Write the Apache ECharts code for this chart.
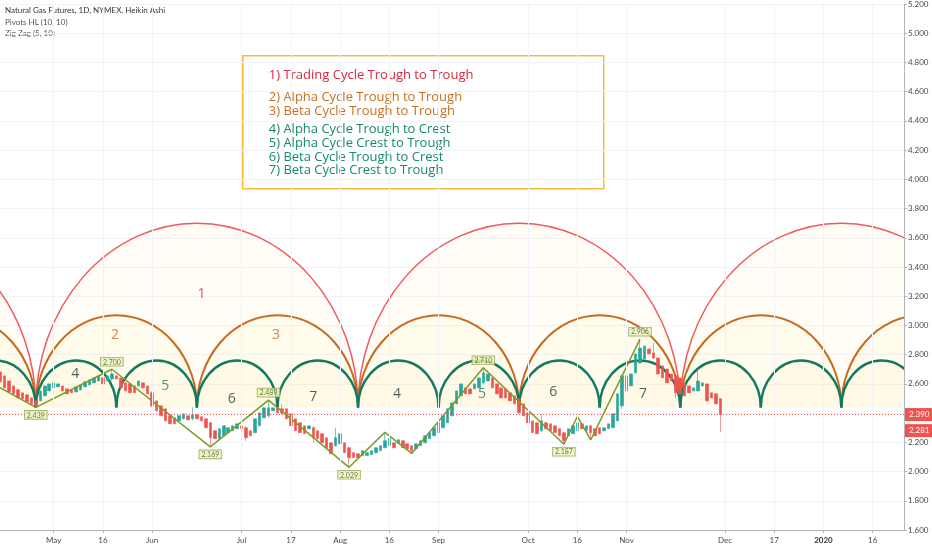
<!DOCTYPE html>
<html>
<head>
<meta charset="utf-8">
<title>Natural Gas Futures, 1D, NYMEX, Heikin Ashi</title>
<script src="https://cdn.jsdelivr.net/npm/echarts@6/dist/echarts.min.js"></script>
<style>
  html, body { margin: 0; padding: 0; background: #fff; }
  #chart { width: 932px; height: 550px; }
</style>
</head>
<body>
<div id="chart"></div>
<script>
// bar index runs from the left edge of the picture (about mid April 2019)
var tickIdx  = [12, 23, 34, 54, 65, 76, 87, 98, 118, 129, 140, 162, 173, 184, 195];
var tickText = ['May', '16', 'Jun', 'Jul', '17', 'Aug', '16', 'Sep', 'Oct', '16', 'Nov', 'Dec', '17', '2020', '16'];

// Heikin Ashi bodies, one per bar (index 0..161)
var opens = [
  2.682, 2.655, 2.620, 2.586, 2.560, 2.539, 2.525, 2.504, 2.484, 2.484,
  2.518, 2.552, 2.573, 2.580, 2.586, 2.566, 2.559, 2.545, 2.559, 2.580,
  2.593, 2.607, 2.620, 2.641, 2.620, 2.634, 2.655, 2.641, 2.607, 2.600,
  2.586, 2.586, 2.607, 2.586, 2.539, 2.484, 2.450, 2.430, 2.382, 2.368,
  2.347, 2.361, 2.382, 2.361, 2.389, 2.375, 2.361, 2.334, 2.280, 2.225,
  2.245, 2.266, 2.279, 2.293, 2.313, 2.300, 2.279, 2.266, 2.313, 2.368,
  2.382, 2.416, 2.436, 2.430, 2.430, 2.395, 2.361, 2.334, 2.313, 2.293,
  2.300, 2.279, 2.259, 2.231, 2.197, 2.177, 2.190, 2.197, 2.163, 2.129,
  2.122, 2.109, 2.109, 2.116, 2.129, 2.143, 2.163, 2.177, 2.197, 2.190,
  2.211, 2.190, 2.177, 2.156, 2.177, 2.197, 2.225, 2.245, 2.266, 2.300,
  2.334, 2.382, 2.463, 2.518, 2.573, 2.566, 2.566, 2.573, 2.607, 2.620,
  2.641, 2.600, 2.573, 2.566, 2.539, 2.518, 2.498, 2.463, 2.402, 2.347,
  2.334, 2.280, 2.334, 2.327, 2.313, 2.293, 2.266, 2.245, 2.259, 2.279,
  2.327, 2.279, 2.313, 2.293, 2.300, 2.279, 2.293, 2.300, 2.347, 2.450,
  2.552, 2.586, 2.675, 2.743, 2.771, 2.839, 2.812, 2.777, 2.723, 2.702,
  2.668, 2.655, 2.641, 2.607, 2.586, 2.552, 2.552, 2.586, 2.600, 2.539,
  2.532, 2.498
];
var closes = [
  2.614, 2.573, 2.545, 2.532, 2.504, 2.498, 2.477, 2.463, 2.450, 2.552,
  2.586, 2.600, 2.607, 2.600, 2.552, 2.532, 2.539, 2.580, 2.593, 2.614,
  2.627, 2.641, 2.655, 2.600, 2.655, 2.668, 2.634, 2.573, 2.552, 2.539,
  2.539, 2.620, 2.573, 2.532, 2.450, 2.416, 2.382, 2.347, 2.327, 2.327,
  2.382, 2.395, 2.354, 2.389, 2.361, 2.347, 2.300, 2.231, 2.225, 2.293,
  2.313, 2.300, 2.313, 2.327, 2.293, 2.231, 2.245, 2.361, 2.402, 2.436,
  2.436, 2.436, 2.402, 2.400, 2.361, 2.313, 2.279, 2.266, 2.259, 2.313,
  2.231, 2.225, 2.197, 2.163, 2.122, 2.231, 2.259, 2.129, 2.095, 2.095,
  2.095, 2.143, 2.129, 2.143, 2.163, 2.177, 2.211, 2.225, 2.163, 2.218,
  2.163, 2.156, 2.143, 2.190, 2.211, 2.245, 2.266, 2.300, 2.334, 2.382,
  2.430, 2.470, 2.552, 2.600, 2.532, 2.532, 2.600, 2.641, 2.675, 2.668,
  2.573, 2.532, 2.504, 2.504, 2.484, 2.463, 2.402, 2.382, 2.334, 2.266,
  2.259, 2.347, 2.293, 2.279, 2.266, 2.245, 2.211, 2.293, 2.313, 2.334,
  2.293, 2.313, 2.266, 2.245, 2.259, 2.300, 2.327, 2.395, 2.532, 2.655,
  2.655, 2.668, 2.805, 2.846, 2.859, 2.805, 2.777, 2.668, 2.641, 2.607,
  2.620, 2.539, 2.532, 2.518, 2.539, 2.573, 2.620, 2.607, 2.484, 2.504,
  2.463, 2.390
];
// visible wicks: [bar, high, low]
var wicks = [
  [8, 2.49, 2.439], [25, 2.700, 2.62], [34, 2.55, 2.44], [43, 2.44, 2.35],
  [47, 2.34, 2.169], [55, 2.31, 2.21], [60, 2.489, 2.37], [63, 2.46, 2.39],
  [70, 2.31, 2.20], [75, 2.30, 2.17], [78, 2.17, 2.029], [86, 2.268, 2.16],
  [92, 2.18, 2.124], [108, 2.710, 2.60], [121, 2.39, 2.27], [126, 2.27, 2.187],
  [129, 2.377, 2.27], [132, 2.32, 2.216], [139, 2.66, 2.43], [143, 2.906, 2.74],
  [146, 2.88, 2.77], [151, 2.66, 2.50], [156, 2.69, 2.55], [161, 2.50, 2.27]
];
var lastPrice = 2.281;

// Zig Zag (5, 10)
var zigIdx = [0, 8, 25, 47, 60, 78, 86, 92, 108, 126, 129, 132, 143];
var zigVal = [2.575, 2.439, 2.700, 2.169, 2.489, 2.029, 2.268, 2.124, 2.710, 2.187, 2.377, 2.216, 2.906];

// Pivots HL (10, 10)
var pivotIdx  = [8, 25, 47, 60, 78, 108, 126, 143];
var pivotVal  = [2.439, 2.700, 2.169, 2.489, 2.029, 2.710, 2.187, 2.906];
var pivotSide = ['low', 'high', 'low', 'high', 'low', 'high', 'low', 'high'];

// cycle arcs: troughs (bar index) and crest heights
var cycleBase = 2.439;
var tradingTroughs = [-64, 8, 80, 152, 224];
var alphaTroughs = [-28, 8, 44, 80, 116, 152, 188, 224];
var betaTroughs = [-10, 8, 26, 44, 62, 80, 98, 116, 134, 152, 170, 188, 206];
var tradingCrest = 3.70;
var alphaCrest = 3.07;
var betaCrest = 2.76;

// cycle numbers written on the chart
var cycleNumText = ['1', '2', '3', '4', '5', '6', '7', '4', '5', '6', '7'];
var cycleNumIdx  = [45, 25.7, 61.7, 16.8, 36.9, 51.8, 70, 88.7, 107.7, 123.6, 143.7];
var cycleNumVal  = [3.214, 2.934, 2.934, 2.668, 2.586, 2.498, 2.511, 2.532, 2.532, 2.545, 2.532];

var legendLines = [
  '1) Trading Cycle Trough to Trough',
  '2) Alpha Cycle Trough to Trough',
  '3) Beta Cycle Trough to Trough',
  '4) Alpha Cycle Trough to Crest',
  '5) Alpha Cycle Crest to Trough',
  '6) Beta Cycle Trough to Crest',
  '7) Beta Cycle Crest to Trough'
];

var RED = '#ef5350', GREEN = '#26a69a';
var numColor = { '1': '#d8283c', '2': '#c8691c', '3': '#c8691c', '4': '#1e3a34', '5': '#177a6e', '6': '#1e3a34', '7': '#1e3a34' };

(function () {
  var myChart = echarts.init(document.getElementById('chart'));

  var candles = opens.map(function (o, i) {
    var c = closes[i];
    var hi = Math.max(o, c), lo = Math.min(o, c);
    wicks.forEach(function (w) {
      if (w[0] === i) { hi = w[1]; lo = w[2]; }
    });
    return [i, o, c, lo, hi];
  });

  // half ellipse from one trough to the next, crest at the middle
  function arcSeries(troughs, crest, color, width) {
    var data = [];
    for (var i = 0; i < troughs.length - 1; i++) {
      data.push([troughs[i], troughs[i + 1], cycleBase, crest]);
    }
    return {
      type: 'custom',
      clip: true,
      silent: true,
      z: 1,
      data: data,
      encode: { x: [0, 1], y: [2, 3] },
      renderItem: function (params, api) {
        var a = api.coord([api.value(0), api.value(2)]);
        var b = api.coord([api.value(1), api.value(2)]);
        var t = api.coord([(api.value(0) + api.value(1)) / 2, api.value(3)]);
        var rx = (b[0] - a[0]) / 2, ry = a[1] - t[1];
        var arc = 'M' + a[0] + ' ' + a[1] + ' A' + rx + ' ' + ry + ' 0 0 1 ' + b[0] + ' ' + b[1];
        return {
          type: 'group',
          children: [
            { type: 'path', shape: { pathData: arc + ' Z' }, style: { fill: 'rgba(255,226,140,0.08)', stroke: null } },
            { type: 'path', shape: { pathData: arc }, style: { fill: null, stroke: color, lineWidth: width } }
          ]
        };
      }
    };
  }

  var pivotData = pivotIdx.map(function (x, i) {
    return {
      value: [x, pivotVal[i]],
      label: { position: pivotSide[i] === 'high' ? 'top' : 'bottom' }
    };
  });

  var numData = cycleNumText.map(function (t, i) {
    return { value: [cycleNumIdx[i], cycleNumVal[i]], name: t, label: { color: numColor[t] } };
  });

  var option = {
    animation: false,
    backgroundColor: '#ffffff',
    grid: { left: 0, right: 28, top: 3, bottom: 20 },
    xAxis: {
      type: 'value',
      min: 0,
      max: 202,
      axisLine: { show: true, onZero: false, lineStyle: { color: '#b2b5be' } },
      axisTick: { show: true, customValues: tickIdx, length: 3, lineStyle: { color: '#b2b5be' } },
      axisLabel: {
        customValues: tickIdx,
        fontSize: 8,
        color: '#4a4a4a',
        fontFamily: 'Lato',
        margin: 6,
        formatter: function (v) {
          var k = tickIdx.indexOf(v);
          if (k < 0) return '';
          return tickText[k] === '2020' ? '{b|2020}' : tickText[k];
        },
        rich: { b: { fontWeight: 'bold', fontSize: 8, color: '#333' } }
      },
      splitLine: { show: false }
    },
    yAxis: {
      type: 'value',
      position: 'right',
      min: 1.6,
      max: 5.2,
      interval: 0.2,
      axisLine: { show: true, onZero: false, lineStyle: { color: '#b2b5be' } },
      axisTick: { show: true, length: 3, lineStyle: { color: '#b2b5be' } },
      axisLabel: {
        fontSize: 8,
        color: '#4a4a4a',
        fontFamily: 'Lato',
        margin: 4,
        formatter: function (v) { return v.toFixed(3); }
      },
      splitLine: { show: true, lineStyle: { color: '#f0f3fa' } }
    },
    series: [
      {
        // vertical grid lines at the date ticks
        type: 'line',
        data: [],
        silent: true,
        z: 0,
        markLine: {
          symbol: 'none',
          silent: true,
          animation: false,
          label: { show: false },
          lineStyle: { color: '#f0f3fa', type: 'solid', width: 1 },
          data: tickIdx.map(function (x) { return { xAxis: x }; })
        }
      },
      arcSeries(tradingTroughs, tradingCrest, '#f05a5c', 1.5),
      arcSeries(alphaTroughs, alphaCrest, '#c8691c', 2),
      arcSeries(betaTroughs, betaCrest, '#127a62', 2.5),
      {
        type: 'candlestick',
        data: candles,
        encode: { x: 0, y: [1, 2, 3, 4] },
        barWidth: 3,
        z: 3,
        itemStyle: {
          color: GREEN, color0: RED,
          borderColor: GREEN, borderColor0: RED,
          borderWidth: 0.6
        }
      },
      {
        type: 'line',
        data: zigIdx.map(function (x, i) { return [x, zigVal[i]]; }),
        symbol: 'none',
        clip: false,
        z: 4,
        lineStyle: { color: '#7b9a25', width: 1.5 },
        markLine: {
          symbol: 'none',
          silent: true,
          animation: false,
          data: [
            {
              yAxis: closes[closes.length - 1],
              lineStyle: { color: RED, type: [1, 2], width: 1 },
              label: { formatter: closes[closes.length - 1].toFixed(3) }
            },
            {
              yAxis: lastPrice,
              lineStyle: { color: 'rgba(239,83,80,0)', width: 0.1 },
              label: { formatter: lastPrice.toFixed(3) }
            }
          ],
          label: {
            position: 'end',
            distance: 1,
            color: '#fff',
            backgroundColor: RED,
            fontSize: 8,
            fontFamily: 'Lato',
            padding: [3, 4, 2, 4]
          }
        }
      },
      {
        type: 'scatter',
        data: pivotData,
        symbolSize: 1,
        itemStyle: { color: 'rgba(0,0,0,0)' },
        z: 5,
        label: {
          show: true,
          distance: 3,
          formatter: function (p) { return p.value[1].toFixed(3); },
          fontSize: 7,
          fontFamily: 'Lato',
          color: '#3f5a1a',
          backgroundColor: '#eef4c6',
          borderColor: '#8fa43c',
          borderWidth: 0.8,
          padding: [1, 2, 0, 2]
        }
      },
      {
        type: 'scatter',
        data: numData,
        symbolSize: 1,
        itemStyle: { color: 'rgba(0,0,0,0)' },
        z: 5,
        label: {
          show: true,
          position: 'inside',
          formatter: function (p) { return p.name; },
          fontSize: 14,
          fontFamily: 'Open Sans'
        }
      }
    ],
    graphic: [
      { type: 'text', left: 5, top: 6, style: { text: 'Natural Gas Futures, 1D, NYMEX, Heikin Ashi', fontSize: 8, fontFamily: 'Lato', fill: '#333' } },
      { type: 'text', left: 5, top: 18, style: { text: 'Pivots HL (10, 10)', fontSize: 8, fontFamily: 'Lato', fill: '#555' } },
      { type: 'text', left: 5, top: 29, style: { text: 'Zig Zag (5, 10)', fontSize: 8, fontFamily: 'Lato', fill: '#555' } },
      {
        type: 'group',
        left: 242,
        top: 55,
        children: [
          { type: 'rect', shape: { x: 0, y: 0, width: 361, height: 133 }, style: { fill: 'rgba(255,255,255,0)', stroke: '#f6b93b', lineWidth: 1.5 } },
          { type: 'text', x: 26, y: 20, style: { text: legendLines[0], fontSize: 13, fontFamily: 'Open Sans', fill: '#d6283e', textVerticalAlign: 'middle' } },
          { type: 'text', x: 26, y: 42, style: { text: legendLines[1], fontSize: 13, fontFamily: 'Open Sans', fill: '#c8701f', textVerticalAlign: 'middle' } },
          { type: 'text', x: 26, y: 56, style: { text: legendLines[2], fontSize: 13, fontFamily: 'Open Sans', fill: '#c8701f', textVerticalAlign: 'middle' } },
          { type: 'text', x: 26, y: 74, style: { text: legendLines[3], fontSize: 13, fontFamily: 'Open Sans', fill: '#158a6c', textVerticalAlign: 'middle' } },
          { type: 'text', x: 26, y: 88, style: { text: legendLines[4], fontSize: 13, fontFamily: 'Open Sans', fill: '#158a6c', textVerticalAlign: 'middle' } },
          { type: 'text', x: 26, y: 102, style: { text: legendLines[5], fontSize: 13, fontFamily: 'Open Sans', fill: '#158a6c', textVerticalAlign: 'middle' } },
          { type: 'text', x: 26, y: 115, style: { text: legendLines[6], fontSize: 13, fontFamily: 'Open Sans', fill: '#158a6c', textVerticalAlign: 'middle' } }
        ]
      }
    ]
  };

  myChart.setOption(option);
  window.addEventListener('resize', function () {
    myChart.resize();
  });
})();
</script>
</body>
</html>
